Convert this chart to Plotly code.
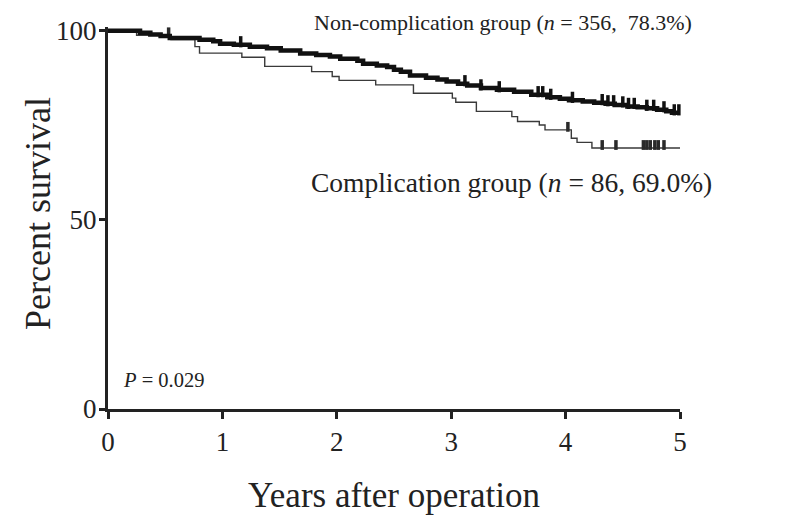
import numpy as np
import plotly.graph_objects as go

# Non-complication group (n = 356)
non_time = [0, 0.28, 0.37, 0.46, 0.54, 0.80, 0.92, 0.98, 1.10, 1.24, 1.39, 1.51, 1.68,
            1.82, 1.94, 2.03, 2.18, 2.23, 2.35, 2.44, 2.50, 2.56, 2.64, 2.78, 2.88, 2.96,
            3.06, 3.14, 3.26, 3.40, 3.55, 3.70, 3.84, 3.95, 4.03, 4.15, 4.25, 4.35, 4.43,
            4.54, 4.63, 4.71, 4.80, 4.88, 4.93, 5.00]
non_surv = [100, 99.5, 99.0, 98.6, 98.1, 97.6, 97.2, 96.6, 96.3, 95.8, 95.4, 94.8, 94.0,
            93.6, 93.2, 92.6, 92.1, 91.3, 90.8, 90.4, 89.7, 89.2, 88.2, 87.6, 87.1, 86.6,
            86.0, 85.5, 84.9, 84.4, 83.9, 83.1, 82.4, 82.0, 81.6, 81.3, 81.0, 80.7, 80.4,
            80.0, 79.8, 79.5, 79.1, 78.7, 78.3, 78.3]
non_censor = [1.16, 3.12, 3.26, 3.42, 3.76, 3.80, 3.87, 4.06, 4.32, 4.37, 4.42, 4.50,
              4.55, 4.60, 4.71, 4.77, 4.86, 4.95, 4.99]

# Complication group (n = 86)
comp_time = [0, 0.25, 0.55, 0.76, 0.80, 1.17, 1.37, 1.78, 1.96, 2.02, 2.34, 2.67, 3.01,
             3.04, 3.22, 3.53, 3.58, 3.77, 3.82, 4.05, 4.10, 4.23, 5.00]
comp_surv = [100, 98.8, 97.7, 95.8, 94.1, 93.0, 90.6, 89.2, 87.9, 86.9, 85.7, 83.5, 82.2,
             81.1, 78.7, 77.3, 76.0, 75.1, 73.8, 71.6, 70.5, 69.0, 69.0]
comp_censor = [0.53, 4.02, 4.32, 4.44, 4.68, 4.71, 4.74, 4.78, 4.81, 4.86]

x_ticks = [0, 1, 2, 3, 4, 5]
y_ticks = [0, 50, 100]


def surv_at(times, surv, t):
    t_arr = np.asarray(times)
    s_arr = np.asarray(surv)
    idx = np.searchsorted(t_arr, np.asarray(t), side="right") - 1
    return s_arr[idx]


FONT = "Liberation Serif"
INK = "#222222"

fig = go.Figure()
fig.add_trace(go.Scatter(x=comp_time, y=comp_surv, mode="lines", line_shape="hv",
                         line=dict(color="#3a3a3a", width=1.4), showlegend=False,
                         name="Complication group"))
fig.add_trace(go.Scatter(x=comp_censor, y=surv_at(comp_time, comp_surv, comp_censor) + 0.8,
                         mode="markers", cliponaxis=False, showlegend=False,
                         marker=dict(symbol="line-ns", size=7,
                                     line=dict(color="#2a2a2a", width=3.5))))
fig.add_trace(go.Scatter(x=non_time, y=non_surv, mode="lines", line_shape="hv",
                         line=dict(color="#111111", width=4.5), showlegend=False,
                         name="Non-complication group"))
fig.add_trace(go.Scatter(x=non_censor, y=surv_at(non_time, non_surv, non_censor) + 0.8,
                         mode="markers", cliponaxis=False, showlegend=False,
                         marker=dict(symbol="line-ns", size=8,
                                     line=dict(color="#111111", width=3.5))))

fig.add_annotation(x=1.78, y=1.013, xref="x", yref="paper", xanchor="left", yanchor="middle",
                   text="Non-complication group (<i>n</i> = 356,  78.3%)", showarrow=False,
                   font=dict(family=FONT, size=22, color=INK))
fig.add_annotation(x=1.76, y=60.0, xref="x", yref="y", xanchor="left", yanchor="middle",
                   text="Complication group (<i>n</i> = 86, 69.0%)", showarrow=False,
                   font=dict(family=FONT, size=27.5, color=INK))
fig.add_annotation(x=0.11, y=7.8, xref="x", yref="y", xanchor="left", yanchor="middle",
                   text="<i>P</i> = 0.029", showarrow=False,
                   font=dict(family=FONT, size=20.5, color=INK))
fig.add_annotation(x=-0.1224, y=0.513, xref="paper", yref="paper", xanchor="center",
                   yanchor="middle", textangle=-90, text="Percent survival", showarrow=False,
                   font=dict(family=FONT, size=36, color=INK))

fig.update_layout(
    width=791, height=519,
    margin=dict(l=100, r=119, t=19, b=118, autoexpand=False),
    paper_bgcolor="white", plot_bgcolor="white",
    font=dict(family=FONT, color=INK),
    xaxis=dict(range=[0, 5], tickvals=x_ticks, ticktext=[str(v) for v in x_ticks],
               automargin=False,
               showline=True, linecolor=INK, linewidth=3, ticks="outside", ticklen=7,
               tickwidth=2.5, tickcolor=INK, showgrid=False, zeroline=False,
               tickfont=dict(family=FONT, size=27, color=INK),
               title=dict(text="Years after operation", standoff=27,
                          font=dict(family=FONT, size=35, color=INK))),
    yaxis=dict(range=[0, 101], tickvals=y_ticks, ticktext=[str(v) for v in y_ticks],
               automargin=False, ticklabelstandoff=-3,
               showline=True, linecolor=INK, linewidth=3, ticks="outside", ticklen=6,
               tickwidth=2.5, tickcolor=INK, showgrid=False, zeroline=False,
               tickfont=dict(family=FONT, size=27, color=INK)),
)

fig.write_html("out.html")
